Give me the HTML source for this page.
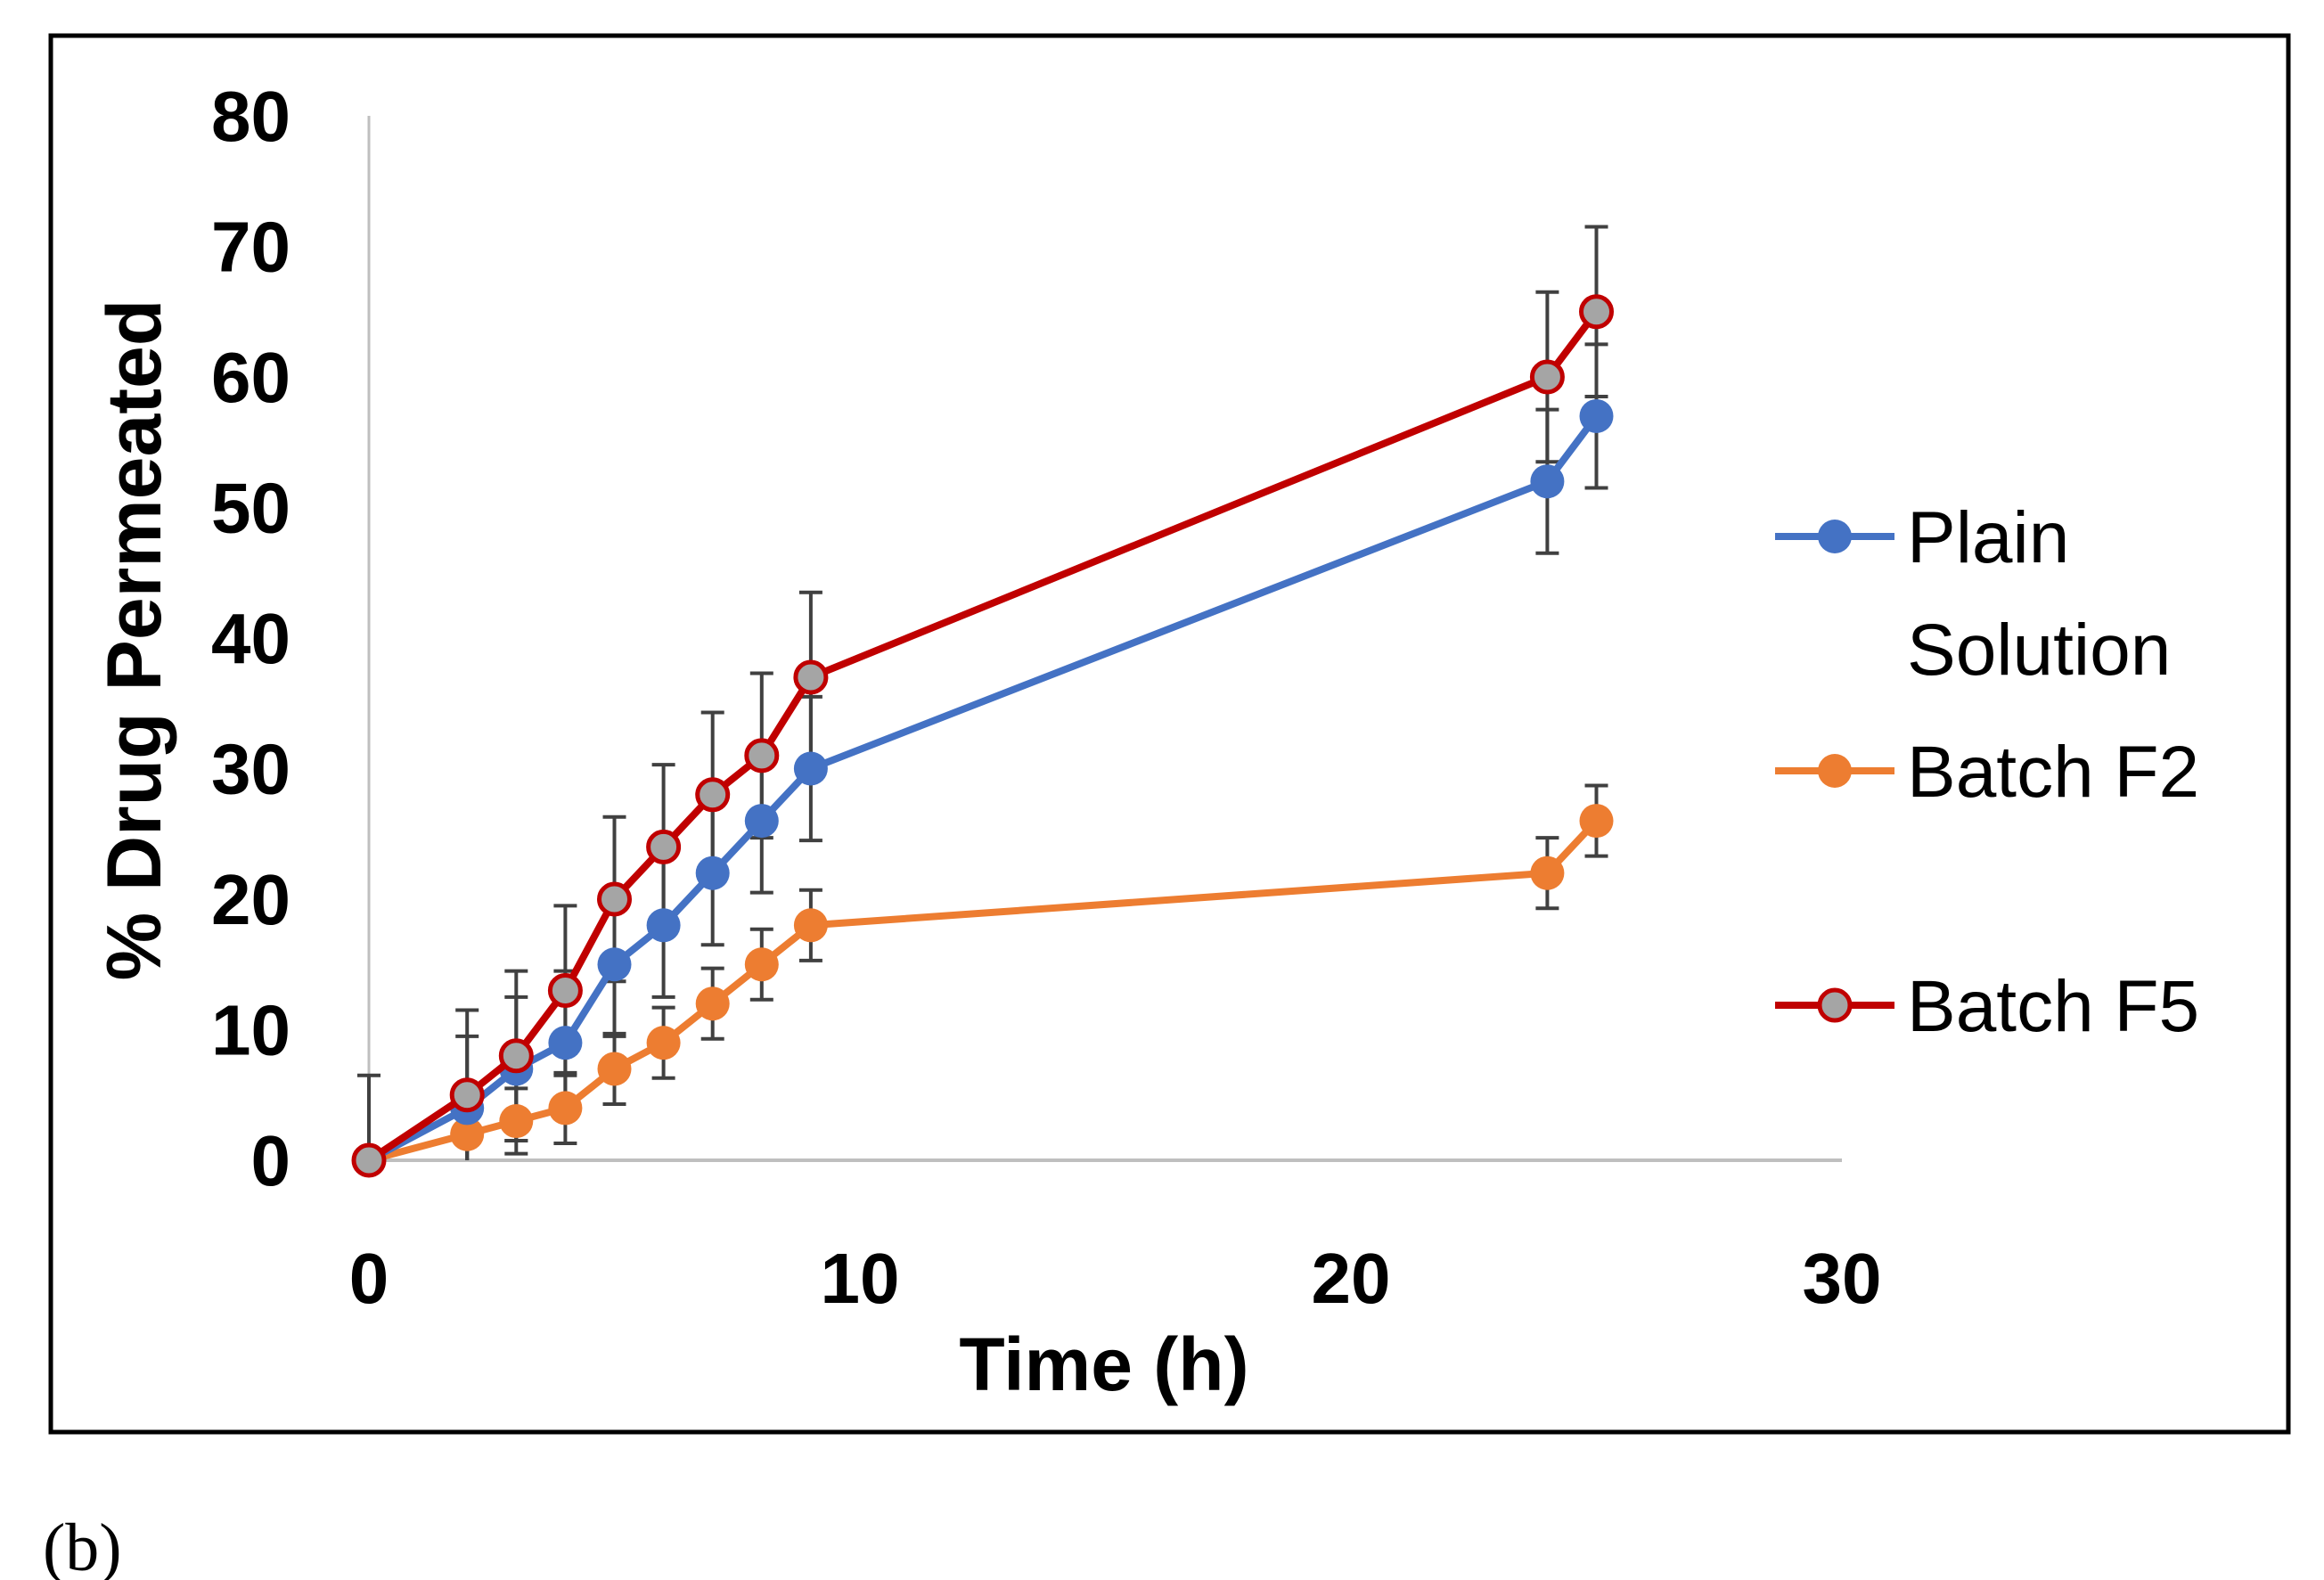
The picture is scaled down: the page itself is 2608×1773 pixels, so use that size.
<!DOCTYPE html>
<html><head><meta charset="utf-8"><style>
html,body{margin:0;padding:0;background:#fff;}
svg{display:block;}
</style></head><body>
<svg id="chart" width="2608" height="1773" viewBox="0 0 2608 1773" xmlns="http://www.w3.org/2000/svg">
<rect x="57" y="40" width="2511" height="1567" fill="#fff" stroke="#000" stroke-width="5"/>
<g id="axes"></g>
<g id="series"></g>
<text x="1239" y="1560" text-anchor="middle" font-family="Liberation Sans, sans-serif" font-weight="bold" font-size="84" fill="#000">Time (h)</text>
<text transform="translate(180,718) rotate(-90)" text-anchor="middle" font-family="Liberation Sans, sans-serif" font-weight="bold" font-size="86" fill="#000">% Drug Permeated</text>
<g font-family="Liberation Sans, sans-serif" font-size="82" fill="#000">
  <g>
    <line x1="1992" y1="602" x2="2126" y2="602" stroke="#4472C4" stroke-width="8"/>
    <circle cx="2059" cy="602" r="19" fill="#4472C4"/>
    <text x="2140" y="631">Plain</text>
    <text x="2140" y="757">Solution</text>
  </g>
  <g>
    <line x1="1992" y1="865" x2="2126" y2="865" stroke="#ED7D31" stroke-width="8"/>
    <circle cx="2059" cy="865" r="19" fill="#ED7D31"/>
    <text x="2140" y="894">Batch F2</text>
  </g>
  <g>
    <line x1="1992" y1="1128" x2="2126" y2="1128" stroke="#C00000" stroke-width="8"/>
    <circle cx="2059" cy="1128" r="17" fill="#A5A5A5" stroke="#C00000" stroke-width="5"/>
    <text x="2140" y="1157">Batch F5</text>
  </g>
</g>
<text x="48" y="1762" font-family="Liberation Serif, serif" font-size="76" fill="#000">(b)</text>
</svg>
<script>
const times = [0, 2, 3, 4, 5, 6, 7, 8, 9, 24, 25];
const plainValues = [0, 4, 7, 9, 15, 18, 22, 26, 30, 52, 57];
const plainErrors = [0, 5.5, 5.5, 5.5, 5.5, 5.5, 5.5, 5.5, 5.5, 5.5, 5.5];
const f2Values = [0, 2, 3, 4, 7, 9, 12, 15, 18, 22, 26];
const f2Errors = [0, 2.5, 2.5, 2.7, 2.7, 2.7, 2.7, 2.7, 2.7, 2.7, 2.7];
const f5Values = [0, 5, 8, 13, 20, 24, 28, 31, 37, 60, 65];
const f5Errors = [6.5, 6.5, 6.5, 6.5, 6.3, 6.3, 6.3, 6.3, 6.5, 6.5, 6.5];
const xTicks = [0, 10, 20, 30];
const yTicks = [0, 10, 20, 30, 40, 50, 60, 70, 80];

const NS = "http://www.w3.org/2000/svg";
const X0 = 414, X1 = 2067, Y0 = 1302, Y1 = 130;
function xs(v){ return X0 + (v - 0) / 30 * (X1 - X0); }
function ys(v){ return Y0 - (v - 0) / 80 * (Y0 - Y1); }
function mk(tag, attrs, parent){
  const e = document.createElementNS(NS, tag);
  for (const k in attrs) e.setAttribute(k, attrs[k]);
  parent.appendChild(e);
  return e;
}
const axes = document.getElementById('axes');
const series = document.getElementById('series');

const ya = mk('line', {x1: xs(0), y1: ys(0), x2: xs(0), y2: ys(80), stroke: '#BFBFBF', 'stroke-width': 3}, axes);


const xa = mk('line', {x1: xs(0), y1: ys(0), x2: xs(30), y2: ys(0), stroke: '#BFBFBF', 'stroke-width': 4}, axes);



yTicks.forEach(t => {
  const tx = mk('text', {x: 326, y: ys(t) + 28, 'text-anchor': 'end', 'font-family': 'Liberation Sans, sans-serif', 'font-weight': 'bold', 'font-size': 80, fill: '#000'}, axes);
  tx.textContent = t;
  
  
});
xTicks.forEach(t => {
  const tx = mk('text', {x: xs(t), y: 1462, 'text-anchor': 'middle', 'font-family': 'Liberation Sans, sans-serif', 'font-weight': 'bold', 'font-size': 80, fill: '#000'}, axes);
  tx.textContent = t;
  
  
});

function drawErrors(vals, errs, name){
  const g = mk('g', {}, series);
  
  
  vals.forEach((v, i) => {
    if (!errs[i]) return;
    const x = xs(times[i]);
    const lo = Math.max(0, v - errs[i]);
    const attrs = {stroke: '#404040', 'stroke-width': 4};
    mk('line', Object.assign({x1: x, y1: ys(lo), x2: x, y2: ys(v + errs[i])}, attrs), g);
    if (v - errs[i] >= 0) mk('line', Object.assign({x1: x - 13, y1: ys(lo), x2: x + 13, y2: ys(lo)}, attrs), g);
    mk('line', Object.assign({x1: x - 13, y1: ys(v + errs[i]), x2: x + 13, y2: ys(v + errs[i])}, attrs), g);
  });
}
function drawSeries(vals, color, fill, name){
  const g = mk('g', {}, series);
  
  
  const pts = vals.map((v, i) => xs(times[i]) + ',' + ys(v)).join(' ');
  const pl = mk('polyline', {points: pts, fill: 'none', stroke: color, 'stroke-width': 8, 'stroke-linejoin': 'round'}, g);
  
  
  vals.forEach((v, i) => {
    const c = fill
      ? mk('circle', {cx: xs(times[i]), cy: ys(v), r: 17, fill: fill, stroke: color, 'stroke-width': 5}, g)
      : mk('circle', {cx: xs(times[i]), cy: ys(v), r: 19, fill: color}, g);
    
    
  });
}
drawErrors(plainValues, plainErrors, 'plain-solution');
drawErrors(f2Values, f2Errors, 'batch-f2');
drawErrors(f5Values, f5Errors, 'batch-f5');
drawSeries(f2Values, '#ED7D31', null, 'batch-f2');
drawSeries(plainValues, '#4472C4', null, 'plain-solution');
drawSeries(f5Values, '#C00000', '#A5A5A5', 'batch-f5');
</script>
</body></html>
